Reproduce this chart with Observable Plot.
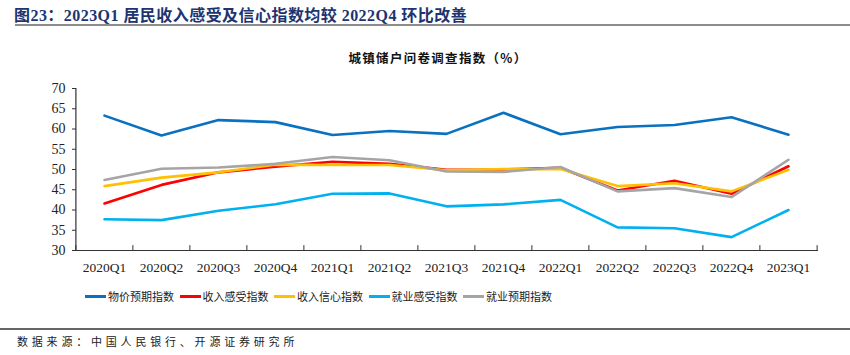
<!DOCTYPE html>
<html><head><meta charset="utf-8">
<script src="https://cdn.jsdelivr.net/npm/d3@7"></script>
<script src="https://cdn.jsdelivr.net/npm/@observablehq/plot@0.6"></script>
<style>
body{margin:0;width:850px;height:355px;background:#fff;position:relative;overflow:hidden;font-family:"Liberation Serif","Noto Sans CJK SC",serif;}
#title{position:absolute;left:14px;top:2px;font-size:16px;font-weight:bold;color:#1d3470;letter-spacing:0.45px;white-space:nowrap;}
#tline{position:absolute;left:15px;right:0;top:24px;height:2px;background:#8c8c8c;}
#sub{position:absolute;left:0;width:876px;top:48px;text-align:center;font-size:12.5px;font-weight:bold;color:#111;font-family:"Noto Sans CJK SC",sans-serif;letter-spacing:1.3px;}
#chart{position:absolute;left:0;top:80px;}
#legend{position:absolute;top:288px;left:85px;display:flex;font-family:"Noto Sans CJK SC",sans-serif;font-size:11px;color:#222;}
.li{display:flex;align-items:center;width:94.5px;white-space:nowrap;}
.sw{width:21px;height:3px;margin-right:2px;}
#bline{position:absolute;left:0;right:0;top:328px;height:2px;background:#666;}
#src{position:absolute;left:17px;top:333px;font-family:"Noto Sans CJK SC",sans-serif;font-size:11px;letter-spacing:3.8px;color:#222;}
</style></head>
<body>
<div id="title">图23：2023Q1 居民收入感受及信心指数均较 2022Q4 环比改善</div>
<div id="tline"></div>
<div id="sub">城镇储户问卷调查指数（%）</div>
<div id="chart"></div>
<div id="legend"></div>
<div id="bline"></div>
<div id="src">数据来源：中国人民银行、开源证券研究所</div>
<script>
const quarters = ["2020Q1","2020Q2","2020Q3","2020Q4","2021Q1","2021Q2","2021Q3","2021Q4","2022Q1","2022Q2","2022Q3","2022Q4","2023Q1"];
const seriesNames = ["物价预期指数","收入感受指数","收入信心指数","就业感受指数","就业预期指数"];
const seriesColors = ["#0a70c0","#ff0000","#ffc000","#00b0f0","#a5a5a5"];
const priceExpect  = [63.3,58.4,62.2,61.7,58.5,59.5,58.8,64.0,58.7,60.5,61.0,62.9,58.6];
const incomeFeel   = [41.6,46.2,49.3,50.7,51.9,51.4,49.9,50.0,50.4,44.8,47.2,44.0,50.8];
const incomeConf   = [45.9,48.0,49.3,51.2,51.1,51.1,49.8,50.1,50.1,45.9,46.6,44.6,49.9];
const jobFeel      = [37.7,37.5,39.8,41.4,44.0,44.1,40.9,41.4,42.5,35.7,35.5,33.3,40.0];
const jobExpect    = [47.4,50.2,50.5,51.4,53.1,52.3,49.5,49.4,50.6,44.6,45.4,43.2,52.4];
const seriesValues = [priceExpect,incomeFeel,incomeConf,jobFeel,jobExpect];
const yTicks = [30,35,40,45,50,55,60,65,70];

const rows = [];
seriesNames.forEach((s,si)=>seriesValues[si].forEach((v,i)=>rows.push({series:s,quarter:quarters[i],value:v})));

const W=850, ML=74, MR=32;
const step=(W-ML-MR)/quarters.length;

const chart = Plot.plot({
  width: W, height: 200,
  marginLeft: ML, marginRight: MR, marginTop: 8, marginBottom: 30,
  style:{fontFamily:"'Liberation Serif','Times New Roman',serif",fontSize:"13.5px",color:"#222",background:"transparent"},
  x:{type:"point",domain:quarters,padding:0.5,label:null},
  y:{domain:[30,70],label:null},
  color:{domain:seriesNames,range:seriesColors},
  marks:[
    Plot.axisY({ticks:yTicks,tickSize:4,tickPadding:7,label:null,stroke:"#333",dx:2,fontSize:14}),
    Plot.axisX({tickSize:0,tickPadding:12,label:null}),
    Plot.ruleX([quarters[0]],{y1:30,y2:70,dx:-step/2,stroke:"#333",strokeWidth:1.2}),
    Plot.ruleY([30],{stroke:"#333",strokeWidth:1.2}),
    Plot.ruleX(quarters,{y1:30,y2:31.2,dx:-step/2,stroke:"#333"}),
    Plot.ruleX([quarters[quarters.length-1]],{y1:30,y2:31.2,dx:step/2,stroke:"#333"}),
    Plot.line(rows,{x:"quarter",y:"value",z:"series",stroke:"series",strokeWidth:2.6,strokeLinejoin:"miter"})
  ]
});
document.getElementById("chart").appendChild(chart);

const lg=document.getElementById("legend");
seriesNames.forEach((s,i)=>{
  const d=document.createElement("div");d.className="li";
  d.innerHTML=`<span class="sw" style="background:${seriesColors[i]}"></span><span>${s}</span>`;
  lg.appendChild(d);
});
</script>
</body></html>
